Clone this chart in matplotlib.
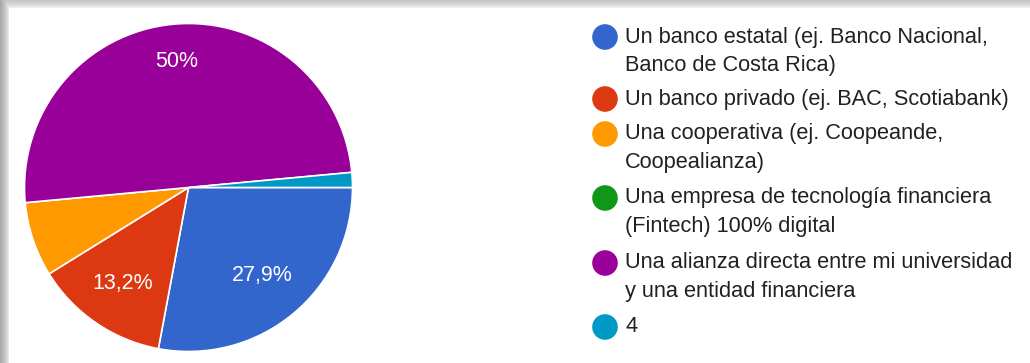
import numpy as np
import matplotlib
matplotlib.use("Agg")
import matplotlib.pyplot as plt

# responses per option (n = 68)
options = [
    "Un banco estatal (ej. Banco Nacional,\nBanco de Costa Rica)",
    "Un banco privado (ej. BAC, Scotiabank)",
    "Una cooperativa (ej. Coopeande,\nCoopealianza)",
    "Una empresa de tecnología financiera\n(Fintech) 100% digital",
    "Una alianza directa entre mi universidad\ny una entidad financiera",
    "4",
]
counts = [19, 9, 5, 0, 34, 1]
colors = ["#3366CC", "#DC3912", "#FF9900", "#109618", "#990099", "#0099C6"]
pct_labels = ["27,9%", "13,2%", None, None, "50%", None]
label_radius = [0.70, 0.71, 0.7, 0.7, 0.77, 0.7]

W, H = 1030, 363
fig = plt.figure(figsize=(W / 100, H / 100), dpi=100)
fig.patch.set_facecolor("white")

# pie, placed in pixel terms
cx, cy, r = 188.5, 187.5, 164
ax = fig.add_axes([(cx - r) / W, (H - cy - r) / H, 2 * r / W, 2 * r / H])
wedges, _ = ax.pie(counts, colors=colors, startangle=0, counterclock=False,
                   wedgeprops=dict(edgecolor="white", linewidth=1.2))
ax.set_xlim(-1, 1)
ax.set_ylim(-1, 1)
ax.set_aspect("equal")
ax.axis("off")

for w, lab, rr in zip(wedges, pct_labels, label_radius):
    if lab is None:
        continue
    mid = np.deg2rad((w.theta1 + w.theta2) / 2)
    ax.text(rr * np.cos(mid), rr * np.sin(mid), lab, color="white",
            fontsize=15.5, ha="center", va="center", family="Liberation Sans")

# legend drawn by hand on a pixel-space overlay
ov = fig.add_axes([0, 0, 1, 1], zorder=-1)
ov.set_xlim(0, W)
ov.set_ylim(H, 0)
ov.axis("off")

row_y = [37, 99, 134, 198, 263, 327]
line_h = 28.5
for y, lab, c in zip(row_y, options, colors):
    ov.scatter([605], [y], s=340, color=c, edgecolors="none")
    for i, line in enumerate(lab.split("\n")):
        ov.text(625, y + i * line_h, line, fontsize=15.7, color="#202124",
                ha="left", va="center", family="Liberation Sans")

# soft frame shadow on the top and left edges
shade = np.ones((H, W, 4))
shade[..., :3] = 0.55
xs = np.arange(W)[None, :]
ys = np.arange(H)[:, None]
a_left = np.clip((9 - xs) / 9, 0, 1) ** 0.6 * 0.75
a_top = np.clip((8 - ys) / 8, 0, 1) ** 0.6 * 0.5
shade[..., 3] = np.maximum(a_left, a_top)
top = fig.add_axes([0, 0, 1, 1], zorder=5)
top.imshow(shade, extent=(0, W, H, 0), aspect="auto", interpolation="bilinear")
top.set_xlim(0, W)
top.set_ylim(H, 0)
top.axis("off")

fig.savefig("out.png", dpi=100, facecolor="white")
